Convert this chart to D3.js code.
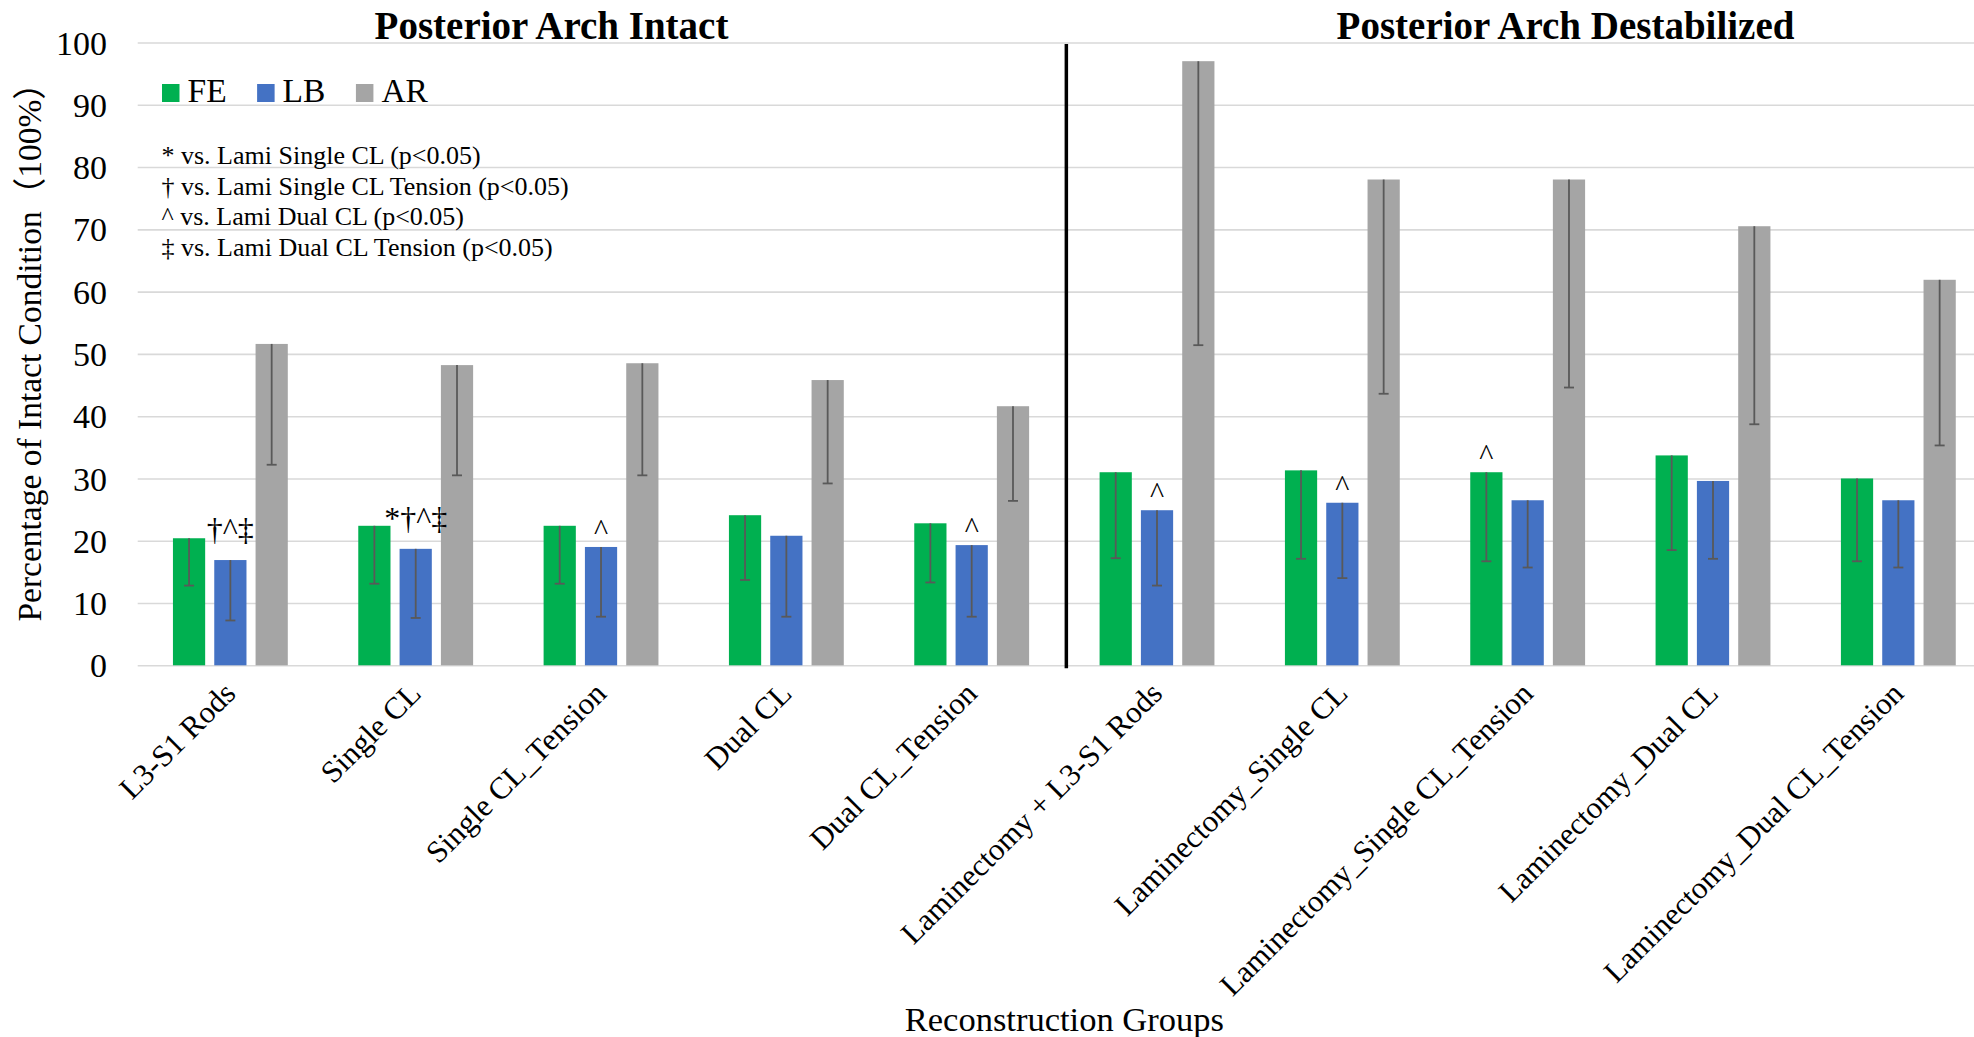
<!DOCTYPE html>
<html>
<head>
<meta charset="utf-8">
<script src="https://cdn.jsdelivr.net/npm/d3@7"></script>
<style>
  body { margin: 0; background: #fff; }
  svg { display: block; }
  text { font-family: "Liberation Serif", "Times New Roman", "Noto Sans CJK JP", serif; fill: #000; }
</style>
</head>
<body>
<svg id="chart" width="1974" height="1037"></svg>
<script>
// ---- data ----
const categories = [
  "L3-S1 Rods", "Single CL", "Single CL_Tension", "Dual CL", "Dual CL_Tension",
  "Laminectomy + L3-S1 Rods", "Laminectomy_Single CL", "Laminectomy_Single CL_Tension",
  "Laminectomy_Dual CL", "Laminectomy_Dual CL_Tension"
];
const seriesNames = ["FE", "LB", "AR"];
const feValues = [20.4, 22.4, 22.4, 24.1, 22.8, 31.0, 31.3, 31.0, 33.7, 30.0];
const lbValues = [16.9, 18.7, 19.0, 20.8, 19.3, 24.9, 26.1, 26.5, 29.6, 26.5];
const arValues = [51.6, 48.2, 48.5, 45.8, 41.6, 97.0, 78.0, 78.0, 70.5, 61.9];
const feErr = [7.6, 9.3, 9.3, 10.4, 9.5, 13.8, 14.2, 14.3, 15.2, 13.3];
const lbErr = [9.7, 11.1, 11.2, 13.0, 11.5, 12.1, 12.1, 10.8, 12.5, 10.8];
const arErr = [19.4, 17.7, 18.0, 16.6, 15.2, 45.6, 34.4, 33.4, 31.8, 26.6];
const yTicks = [0, 10, 20, 30, 40, 50, 60, 70, 80, 90, 100];
const panelTitles = ["Posterior Arch Intact", "Posterior Arch Destabilized"];
const keyNotes = [
  "* vs. Lami Single CL (p<0.05)",
  "† vs. Lami Single CL Tension (p<0.05)",
  "^ vs. Lami Dual CL (p<0.05)",
  "‡ vs. Lami Dual CL Tension (p<0.05)"
];
const sigMarks = [
  { category: "L3-S1 Rods", series: "LB", text: "†^‡" },
  { category: "Single CL", series: "LB", text: "*†^‡" },
  { category: "Single CL_Tension", series: "LB", text: "^" },
  { category: "Dual CL_Tension", series: "LB", text: "^" },
  { category: "Laminectomy + L3-S1 Rods", series: "LB", text: "^" },
  { category: "Laminectomy_Single CL", series: "LB", text: "^" },
  { category: "Laminectomy_Single CL_Tension", series: "FE", text: "^" }
];
const xTitle = "Reconstruction Groups";
const yTitle = "Percentage of Intact Condition（100%）";

// ---- layout ----
const colors = { FE: "#00B050", LB: "#4472C4", AR: "#A5A5A5" };
const plot = { left: 137.7, right: 1991, top: 42.5, bottom: 665.3 };
const svg = d3.select("#chart");

const values = { FE: feValues, LB: lbValues, AR: arValues };
const errors = { FE: feErr, LB: lbErr, AR: arErr };
const rows = categories.map((c, i) => ({
  category: c,
  bars: seriesNames.map(s => ({ series: s, value: values[s][i], err: errors[s][i] }))
}));

const x0 = d3.scaleBand().domain(categories).range([plot.left, plot.right]).paddingInner(0).paddingOuter(0);
const x1 = d3.scaleBand().domain(seriesNames).range([0, x0.bandwidth()]).paddingInner(0.22).paddingOuter(0.853);
const y = d3.scaleLinear().domain([0, 100]).range([plot.bottom, plot.top]);

// gridlines
svg.append("g")
  .attr("transform", `translate(${plot.left},0)`)
  .call(d3.axisLeft(y).tickValues(yTicks).tickSize(-(plot.right - plot.left)).tickFormat(""))
  .call(g => g.select(".domain").remove())
  .call(g => g.selectAll("line").attr("stroke", "#D9D9D9").attr("stroke-width", 1.6));

// y tick labels
svg.append("g")
  .attr("transform", `translate(107,0)`)
  .call(d3.axisLeft(y).tickValues(yTicks).tickSize(0).tickPadding(0))
  .call(g => g.select(".domain").remove())
  .call(g => g.selectAll("text")
    .attr("font-family", '"Liberation Serif", "Times New Roman", serif')
    .attr("font-size", 34).attr("fill", "#000").attr("dy", "0.34em"));

// bars
const groups = svg.append("g").selectAll("g.grp").data(rows).join("g")
  .attr("class", "grp")
  .attr("transform", d => `translate(${x0(d.category)},0)`);

groups.selectAll("rect").data(d => d.bars).join("rect")
  .attr("x", d => x1(d.series))
  .attr("y", d => y(d.value))
  .attr("width", x1.bandwidth())
  .attr("height", d => y(0) - y(d.value))
  .attr("fill", d => colors[d.series]);

// error bars (minus direction, capped)
const capHalf = 5;
const eb = groups.selectAll("g.err").data(d => d.bars).join("g").attr("class", "err")
  .attr("stroke", "#595959").attr("stroke-width", 1.8);
eb.append("line")
  .attr("x1", d => x1(d.series) + x1.bandwidth() / 2)
  .attr("x2", d => x1(d.series) + x1.bandwidth() / 2)
  .attr("y1", d => y(d.value))
  .attr("y2", d => y(d.value - d.err));
eb.append("line")
  .attr("x1", d => x1(d.series) + x1.bandwidth() / 2 - capHalf)
  .attr("x2", d => x1(d.series) + x1.bandwidth() / 2 + capHalf)
  .attr("y1", d => y(d.value - d.err))
  .attr("y2", d => y(d.value - d.err));

// significance marks above bars
svg.append("g").selectAll("text").data(sigMarks).join("text")
  .attr("x", d => x0(d.category) + x1(d.series) + x1.bandwidth() / 2)
  .attr("y", d => {
    const v = values[d.series][categories.indexOf(d.category)];
    return y(v) - (d.text.length > 1 ? 20 : 7);
  })
  .attr("text-anchor", "middle")
  .attr("font-size", d => d.text.length > 1 ? 32 : 30)
  .text(d => d.text);

// divider between the two panels
const divX = x0(categories[5]) + 2;
svg.append("line")
  .attr("x1", divX).attr("x2", divX)
  .attr("y1", y(100) + 1.5).attr("y2", y(0) + 3)
  .attr("stroke", "#000").attr("stroke-width", 3.5);

// panel titles
svg.append("g").selectAll("text").data(panelTitles).join("text")
  .attr("x", (d, i) => [551.5, 1565.5][i])
  .attr("y", 39)
  .attr("text-anchor", "middle")
  .attr("font-size", 39)
  .attr("font-weight", "bold")
  .text(d => d);

// category labels
svg.append("g").selectAll("text").data(categories).join("text")
  .attr("transform", d => `translate(${x0(d) + x0.bandwidth() / 2 + 7},${plot.bottom + 30}) rotate(-45)`)
  .attr("text-anchor", "end")
  .attr("font-size", 31)
  .text(d => d);

// legend
const legend = svg.append("g").attr("transform", "translate(162,102)");
let lx = 0;
seriesNames.forEach(s => {
  legend.append("rect").attr("x", lx).attr("y", -18).attr("width", 17.5).attr("height", 18).attr("fill", colors[s]);
  const t = legend.append("text").attr("x", lx + 25.5).attr("y", 0).attr("font-size", 33.5).text(s);
  lx += 25.5 + t.node().getComputedTextLength() + 30.5;
});

// key to significance symbols
svg.append("g").selectAll("text").data(keyNotes).join("text")
  .attr("x", 161.5)
  .attr("y", (d, i) => 164 + i * 30.6)
  .attr("font-size", 26)
  .text(d => d);

// axis titles
svg.append("text")
  .attr("x", (plot.left + plot.right) / 2)
  .attr("y", 1030.5)
  .attr("text-anchor", "middle")
  .attr("font-size", 34.5)
  .text(xTitle);

svg.append("text")
  .attr("transform", `translate(41,${(plot.top + plot.bottom) / 2 - 10}) rotate(-90)`)
  .attr("text-anchor", "middle")
  .attr("font-size", 33.5)
  .text(yTitle);
</script>
</body>
</html>
